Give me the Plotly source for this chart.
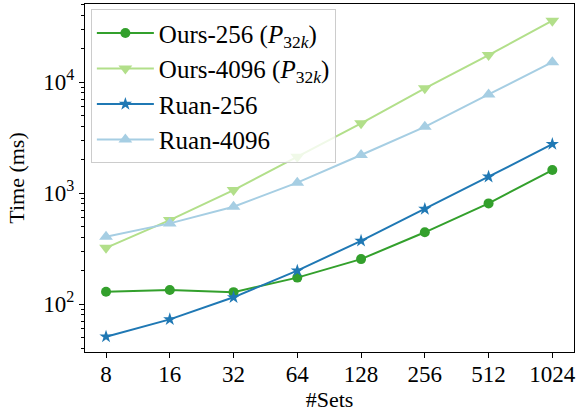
import plotly.graph_objects as go

# Number of sets (x) and running time in ms (y) for each method
sets = [8, 16, 32, 64, 128, 256, 512, 1024]
tick_labels = ["8", "16", "32", "64", "128", "256", "512", "1024"]

ours_256 = [129, 134, 128, 173, 254, 443, 807, 1610]
ours_4096 = [321, 571, 1064, 2120, 4250, 8770, 17500, 35700]
ruan_256 = [50.8, 72.8, 115, 200, 371, 718, 1403, 2760]
ruan_4096 = [404, 533, 753, 1240, 2200, 3950, 7740, 15100]

series = [
    ("Ours-256 (<i>P</i><sub>32<i>k</i></sub>)", ours_256, "#33a02c", "circle", 10),
    ("Ours-4096 (<i>P</i><sub>32<i>k</i></sub>)", ours_4096, "#b2df8a", "triangle-down", 12),
    ("Ruan-256", ruan_256, "#1f78b4", "star", 10),
    ("Ruan-4096", ruan_4096, "#a6cee3", "triangle-up", 12),
]

FONT = "Liberation Serif"

fig = go.Figure()
for i, (name, vals, color, symbol, size) in enumerate(series):
    fig.add_trace(go.Scatter(
        x=sets, y=vals, name=name, mode="lines+markers",
        legendgroup=f"g{i}",
        line=dict(color=color, width=2),
        marker=dict(color=color, symbol=symbol, size=size, line=dict(width=0)),
    ))

minor_y = [m * 10 ** e for e in (1, 2, 3, 4) for m in range(2, 10)]
minor_y = [v for v in minor_y if 37 <= v <= 50000]

fig.update_layout(
    width=577, height=412,
    margin=dict(l=85, r=1, t=4, b=60),
    paper_bgcolor="white", plot_bgcolor="white",
    font=dict(family=FONT, size=22, color="black"),
    showlegend=True,
    legend=dict(
        x=0.012, y=0.985, xanchor="left", yanchor="top",
        bgcolor="rgba(255,255,255,0.8)",
        bordercolor="#cccccc", borderwidth=1,
        font=dict(family=FONT, size=25, color="black"),
        tracegroupgap=0, itemwidth=57,
    ),
    xaxis=dict(
        type="log",
        range=[0.8038, 3.1126],
        tickmode="array", tickvals=sets, ticktext=tick_labels,
        ticks="outside", ticklen=5, tickwidth=1, tickcolor="black",
        ticklabelstandoff=-4, ticklabeloverflow="allow",
        showline=True, linecolor="black", linewidth=1.2, mirror=True,
        showgrid=False, zeroline=False,
        title=dict(text="#Sets", standoff=8, font=dict(family=FONT, size=22)),
        tickfont=dict(family=FONT, size=23),
    ),
    yaxis=dict(
        type="log",
        range=[1.568, 4.703],
        tickmode="array", tickvals=[100, 1000, 10000],
        ticktext=["10<sup>2</sup>", "10<sup>3</sup>", "10<sup>4</sup>"],
        ticks="outside", ticklen=5, tickwidth=1, tickcolor="black",
        minor=dict(tickmode="array", tickvals=minor_y, ticks="outside",
                   ticklen=3, tickwidth=0.8, tickcolor="black", showgrid=False),
        showline=True, linecolor="black", linewidth=1.2, mirror=True,
        showgrid=False, zeroline=False,
        title=dict(text="Time (ms)", standoff=12, font=dict(family=FONT, size=22)),
        tickfont=dict(family=FONT, size=23),
    ),
)

fig.write_html("out.html")
